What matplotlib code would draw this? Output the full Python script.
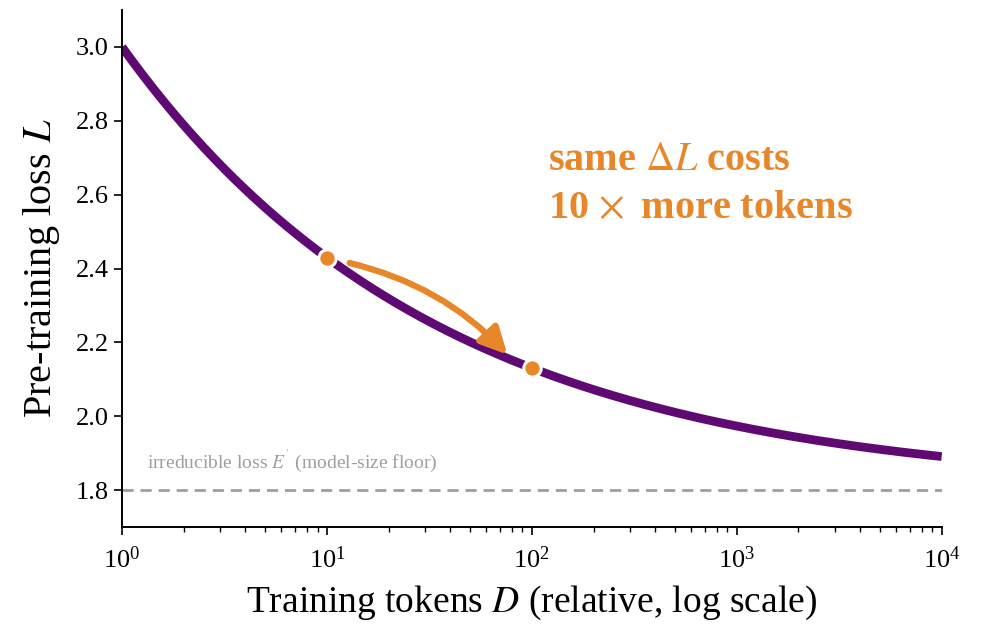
import numpy as np
import matplotlib
matplotlib.use("Agg")
import matplotlib.pyplot as plt
from matplotlib.patches import FancyArrowPatch

# Data-scaling law L(D) = E' + B / D**beta
E_floor = 1.8
B_coef = 1.2
beta = 0.28
D_range = (1.0, 1e4)
D_marks = [10.0, 100.0]
y_limits = (1.7, 3.1)
y_ticks = [1.8, 2.0, 2.2, 2.4, 2.6, 2.8, 3.0]
x_ticks = [1, 10, 100, 1000, 10000]

PURPLE = "#5E0A72"
ORANGE = "#E8862A"
GREY = "#9E9E9E"

plt.rcParams["font.family"] = ["Liberation Serif", "DejaVu Serif"]
plt.rcParams["mathtext.fontset"] = "stix"


def loss(d):
    return E_floor + B_coef / np.power(d, beta)


fig = plt.figure(figsize=(9.84, 6.26), dpi=100)
ax = fig.add_axes([0.124, 0.158, 0.833, 0.826])

D = np.logspace(np.log10(D_range[0]), np.log10(D_range[1]), 400)
ax.plot(D, loss(D), color=PURPLE, lw=6.3, solid_capstyle="butt", zorder=2)

ax.axhline(E_floor, color=GREY, lw=2, ls=(0, (4, 2.5)), zorder=1)
ax.text(1.32, E_floor + 0.045, r"irreducible loss $E^{'}$ (model-size floor)",
        color=GREY, fontsize=14, ha="left", va="bottom")

D_m = np.array(D_marks)
ax.plot(D_m, loss(D_m), "o", color=ORANGE, ms=12.5, mec="white", mew=2.2, zorder=4)

arrow = FancyArrowPatch((12.9, 2.415), (76.0, 2.167),
                        connectionstyle="arc3,rad=-0.15",
                        arrowstyle="-|>", mutation_scale=40,
                        color=ORANGE, lw=4.5, zorder=3,
                        shrinkA=0, shrinkB=0, capstyle="round")
ax.add_patch(arrow)

ax.text(120, 2.742, "same $\\Delta L$ costs\n10$\\,\\times$ more tokens",
        color=ORANGE, fontsize=29, fontweight="bold", ha="left", va="top",
        linespacing=1.38)

ax.set_xscale("log")
ax.set_xlim(*D_range)
ax.set_ylim(*y_limits)
ax.set_xticks(x_ticks)
ax.set_yticks(y_ticks)
ax.set_yticklabels([f"{v:.1f}" for v in y_ticks])
ax.tick_params(axis="both", labelsize=19, width=1.2, length=6)
ax.tick_params(axis="x", which="minor", width=1, length=3.5)
ax.tick_params(axis="x", pad=8)
ax.set_xlabel(r"Training tokens $D$ (relative, log scale)", fontsize=27, labelpad=8)
ax.set_ylabel(r"Pre-training loss $L$", fontsize=29, labelpad=10)

for side in ("top", "right"):
    ax.spines[side].set_visible(False)
for side in ("left", "bottom"):
    ax.spines[side].set_linewidth(1.4)

fig.savefig("out.png", dpi=100, facecolor="white")
